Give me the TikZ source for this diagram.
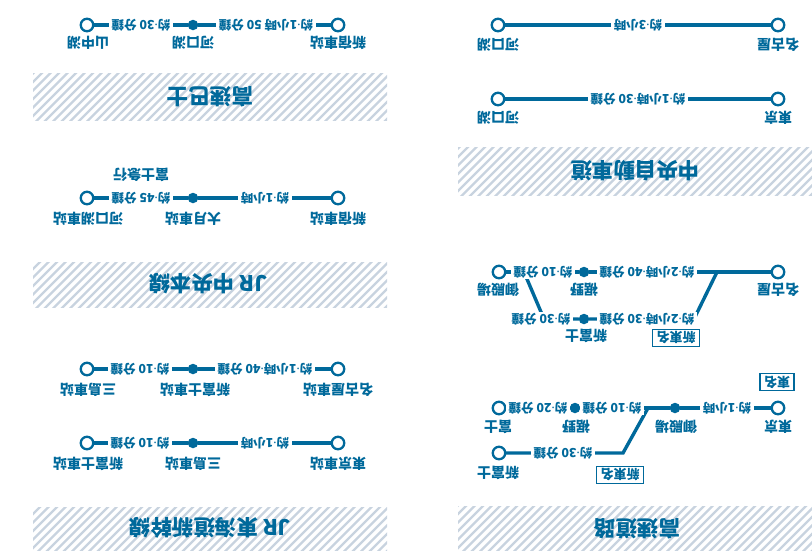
\documentclass[tikz,border=0pt]{standalone}
\usepackage{fontspec}
\setmainfont{Noto Sans CJK TC}
\newfontfamily\latinf{Noto Sans}
\newcommand\md{{\latinf\bfseries ·}}
\usetikzlibrary{positioning}
\definecolor{rblue}{RGB}{0,105,155}
\definecolor{hgray}{RGB}{200,211,223}

\begin{document}
\begin{tikzpicture}[x=1pt,y=-1pt,
   every node/.style={rotate=180,text=rblue,font=\bfseries},
   endst/.style={circle,draw=rblue,fill=white,line width=2.3pt,minimum size=12.5pt,inner sep=0pt},
   midst/.style={circle,fill=rblue,minimum size=10.5pt,inner sep=0pt},
   route/.style={draw=rblue,line width=3.4pt,line cap=round},
   dur/.style={fill=white,inner xsep=2.5pt,inner ysep=1pt,font=\bfseries\fontsize{12.5}{13}\selectfont},
   lbl/.style={font=\bfseries\fontsize{14}{15}\selectfont},
   road/.style={draw=rblue,line width=1.2pt,inner xsep=4pt,inner ysep=2pt,font=\bfseries\fontsize{13}{14}\selectfont},
   ttl/.style={font=\bfseries\fontsize{21.5}{22}\selectfont}]

   \useasboundingbox (0,0) rectangle (812,550);

   % Bands
      \foreach \xa/\ya/\xb/\yb in {33/73/387/120, 33/262/387/307, 33/507/387/552,
                                   458/147/812/195, 458/506/812/552}{
         \begin{scope}
            \clip (\xa,\ya) rectangle (\xb,\yb);
            \foreach \s in {0,8.5,...,430}
               \draw[hgray,line width=2.4pt] (\xa+\s-60,\yb+5) -- ++(70,-70);
         \end{scope}}
      \node[ttl] (t1) at (210,97)  {高速巴士};
      \node[ttl] (t2) at (208,284) {JR 中央本線};
      \node[ttl] (t3) at (210,528) {JR 東海道新幹線};
      \node[ttl] (t4) at (635,171) {中央自動車道};
      \node[ttl] (t5) at (637,529) {高速道路};

   % Nodes
      \node[endst] (b1) at (338,25)  {};
      \node[midst] (b2) at (193,25)  {};
      \node[endst] (b3) at (87,25)   {};

      \node[endst] (c1) at (338,198) {};
      \node[midst] (c2) at (193,198) {};
      \node[endst] (c3) at (87,198)  {};

      \node[endst] (s1) at (338,369) {};
      \node[midst] (s2) at (193,369) {};
      \node[endst] (s3) at (87,369)  {};
      \node[endst] (s4) at (338,443) {};
      \node[midst] (s5) at (193,443) {};
      \node[endst] (s6) at (87,443)  {};

      \node[endst] (m1) at (778,25)  {};
      \node[endst] (m2) at (498,25)  {};
      \node[endst] (m3) at (778,99)  {};
      \node[endst] (m4) at (498,99)  {};

      \node[endst] (n1) at (778,272) {};
      \node[midst] (n2) at (584,272) {};
      \node[endst] (n3) at (499,272) {};
      \node[midst] (n4) at (584,319) {};
      \coordinate  (n5) at (717,272);
      \coordinate  (n6) at (694,319);
      \coordinate  (n7) at (544,319);
      \coordinate  (n8) at (524,272);

      \node[endst] (h1) at (778,408) {};
      \node[midst] (h2) at (675,408) {};
      \coordinate  (h3) at (648,408);
      \node[midst] (h4) at (575,408) {};
      \node[endst] (h5) at (499,408) {};
      \coordinate  (h6) at (623,453);
      \node[endst] (h7) at (499,453) {};

   % Paths
      \draw[route] (b1) -- (b2) -- (b3);
      \draw[route] (c1) -- (c2) -- (c3);
      \draw[route] (s1) -- (s2) -- (s3);
      \draw[route] (s4) -- (s5) -- (s6);
      \draw[route] (m1) -- (m2);
      \draw[route] (m3) -- (m4);
      \draw[route] (n1) -- (n5) -- (n2) -- (n3);
      \draw[route] (n5) -- (n6) -- (n4) -- (n7) -- (n8);
      \draw[route] (h1) -- (h2) -- (h4) -- (h5);
      \draw[route] (h3) -- (h6) -- (h7);

   % Times
      \node[dur] (db1) at (266,25)  {約\md 1小時 50 分鐘};
      \node[dur] (db2) at (141,25)  {約\md 30 分鐘};
      \node[dur] (dc1) at (265,198) {約\md 1小時};
      \node[dur] (dc2) at (141,198) {約\md 45 分鐘};
      \node[dur] (ds1) at (265,369) {約\md 1小時\md 40 分鐘};
      \node[dur] (ds2) at (140,369) {約\md 10 分鐘};
      \node[dur] (ds3) at (265,443) {約\md 1小時};
      \node[dur] (ds4) at (140,443) {約\md 10 分鐘};
      \node[dur] (dm1) at (638,25)  {約\md 3小時};
      \node[dur] (dm2) at (638,99)  {約\md 1小時\md 30 分鐘};
      \node[dur] (dn1) at (647,272) {約\md 2小時\md 40 分鐘};
      \node[dur] (dn2) at (543,272) {約\md 10 分鐘};
      \node[dur] (dn3) at (647,319) {約\md 2小時\md 30 分鐘};
      \node[dur] (dn4) at (541,319) {約\md 30 分鐘};
      \node[dur] (dh1) at (727,408) {約\md 1小時};
      \node[dur] (dh2) at (612,408) {約\md 10 分鐘};
      \node[dur] (dh3) at (538,408) {約\md 20 分鐘};
      \node[dur] (dh4) at (563,453) {約\md 30 分鐘};

   % Stations
      \node[lbl] (lb1) at (338,43)  {新宿車站};
      \node[lbl] (lb2) at (193,43)  {河口湖};
      \node[lbl] (lb3) at (88,43)   {山中湖};
      \node[lbl] (lc0) at (141,175) {富士急行};
      \node[lbl] (lc1) at (338,219) {新宿車站};
      \node[lbl] (lc2) at (193,219) {大月車站};
      \node[lbl] (lc3) at (88,219)  {河口湖車站};
      \node[lbl] (ls1) at (338,390) {名古屋車站};
      \node[lbl] (ls2) at (195,390) {新富士車站};
      \node[lbl] (ls3) at (88,390)  {三島車站};
      \node[lbl] (ls4) at (338,464) {東京車站};
      \node[lbl] (ls5) at (193,464) {三島車站};
      \node[lbl] (ls6) at (88,464)  {新富士車站};
      \node[lbl] (lm1) at (778,45)  {名古屋};
      \node[lbl] (lm2) at (498,45)  {河口湖};
      \node[lbl] (lm3) at (778,118) {東京};
      \node[lbl] (lm4) at (498,118) {河口湖};
      \node[lbl] (ln1) at (778,290) {名古屋};
      \node[lbl] (ln2) at (584,290) {裾野};
      \node[lbl] (ln3) at (498,290) {御殿場};
      \node[lbl] (ln4) at (586,336) {新富士};
      \node[lbl] (lh1) at (778,427) {東京};
      \node[lbl] (lh2) at (676,427) {御殿場};
      \node[lbl] (lh3) at (576,427) {裾野};
      \node[lbl] (lh4) at (498,427) {富士};
      \node[lbl] (lh5) at (498,473) {新富士};

   % Roads
      \node[road] (rn) at (676,338) {新東名};
      \node[road] (rt) at (777,382) {東名};
      \node[road] (rh) at (620,475) {新東名};
\end{tikzpicture}
\end{document}
